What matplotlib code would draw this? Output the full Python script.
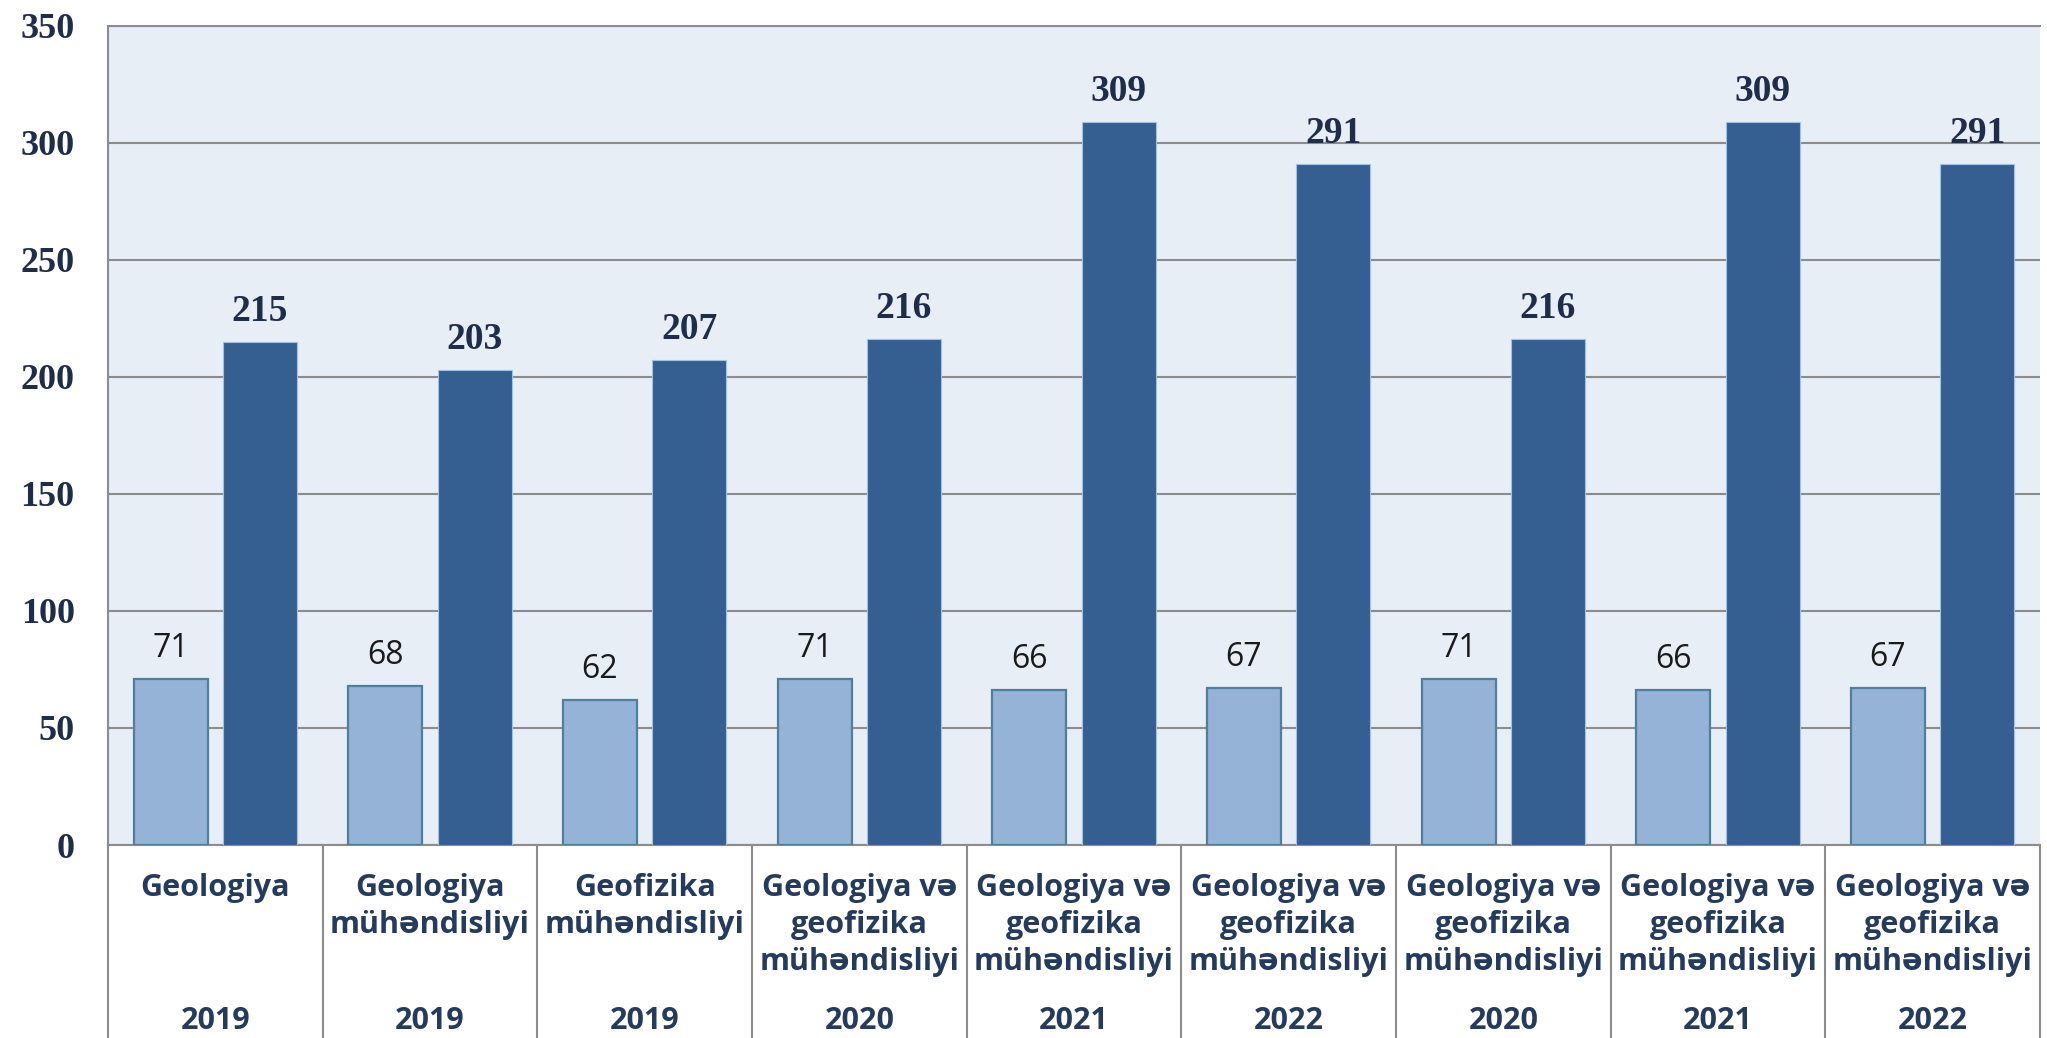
import matplotlib
matplotlib.use("Agg")
import numpy as np
import matplotlib.pyplot as plt
from matplotlib.transforms import blended_transform_factory

# data
programs = ["Geologiya",
            "Geologiya\nmühəndisliyi",
            "Geofizika\nmühəndisliyi",
            "Geologiya və\ngeofizika\nmühəndisliyi",
            "Geologiya və\ngeofizika\nmühəndisliyi",
            "Geologiya və\ngeofizika\nmühəndisliyi",
            "Geologiya və\ngeofizika\nmühəndisliyi",
            "Geologiya və\ngeofizika\nmühəndisliyi",
            "Geologiya və\ngeofizika\nmühəndisliyi"]
years = ["2019", "2019", "2019", "2020", "2021", "2022", "2020", "2021", "2022"]
light_vals = [71, 68, 62, 71, 66, 67, 71, 66, 67]
dark_vals = [215, 203, 207, 216, 309, 291, 216, 309, 291]
yticks = [0, 50, 100, 150, 200, 250, 300, 350]

# colours
light_col = "#95B3D7"
light_edge = "#4F7F9A"
dark_col = "#365F91"
dark_edge = "#9DC3E6"
bg_col = "#E7EEF6"
grid_col = "#8C8C8C"
txt_col = "#243B5E"
tick_col = "#1F2D4A"

W, H = 2047, 1038
fig = plt.figure(figsize=(W/100., H/100.), dpi=100)
ax = fig.add_axes([108./W, 1-845./H, (2040.-108.)/W, (845.-25.6)/H])
ax.set_facecolor(bg_col)

x = np.arange(len(programs))
bw = 0.345
off = 0.208
ax.bar(x-off, light_vals, bw, color=light_col, edgecolor=light_edge, linewidth=1.6, zorder=3)
ax.bar(x+off, dark_vals, bw, color=dark_col, edgecolor=dark_edge, linewidth=0.8, zorder=3)

ax.set_xlim(-0.5, len(programs)-0.5)
ax.set_ylim(0, 350)
ax.set_yticks(yticks)
ax.set_yticklabels([str(v) for v in yticks], fontsize=26, fontweight='bold',
                   family='Liberation Serif', color=tick_col)
ax.tick_params(axis='y', length=0, pad=24)
ax.set_xticks([])
ax.yaxis.grid(True, color=grid_col, linewidth=1.5, zorder=1)
ax.set_axisbelow(True)

ax.spines['right'].set_visible(False)
for s in ['left', 'top', 'bottom']:
    ax.spines[s].set_color(grid_col)
    ax.spines[s].set_linewidth(1.5)

# value labels
for i in range(len(programs)):
    ax.annotate(str(light_vals[i]), (x[i]-off, light_vals[i]), xytext=(0, 22),
                textcoords='offset pixels', ha='center', va='baseline',
                fontsize=23, family='Open Sans', color='#1a1a1a', zorder=4)
    ax.annotate(str(dark_vals[i]), (x[i]+off, dark_vals[i]), xytext=(0, 21),
                textcoords='offset pixels', ha='center', va='baseline',
                fontsize=27, fontweight='bold', family='Liberation Serif',
                color=tick_col, zorder=4)

# category table under the axis
trans = blended_transform_factory(ax.transData, ax.transAxes)
hpx = 845.-25.6
for b in np.arange(len(programs)+1)-0.5:
    ax.plot([b, b], [0, -250./hpx], transform=trans, color=grid_col,
            linewidth=1.5, clip_on=False)

for i in range(len(programs)):
    lines = programs[i].split("\n")
    for j in range(len(lines)):
        ax.annotate(lines[j], (x[i], 0), xycoords=trans, xytext=(0, -43-37*j),
                    textcoords='offset pixels', ha='center', va='center',
                    fontsize=22, fontweight='bold', family=['Open Sans', 'DejaVu Sans'],
                    color=txt_col)
    ax.annotate(years[i], (x[i], 0), xycoords=trans, xytext=(0, -176),
                textcoords='offset pixels', ha='center', va='center',
                fontsize=22, fontweight='bold', family=['Open Sans', 'DejaVu Sans'],
                color=txt_col)

fig.savefig("out.png", dpi=100)
